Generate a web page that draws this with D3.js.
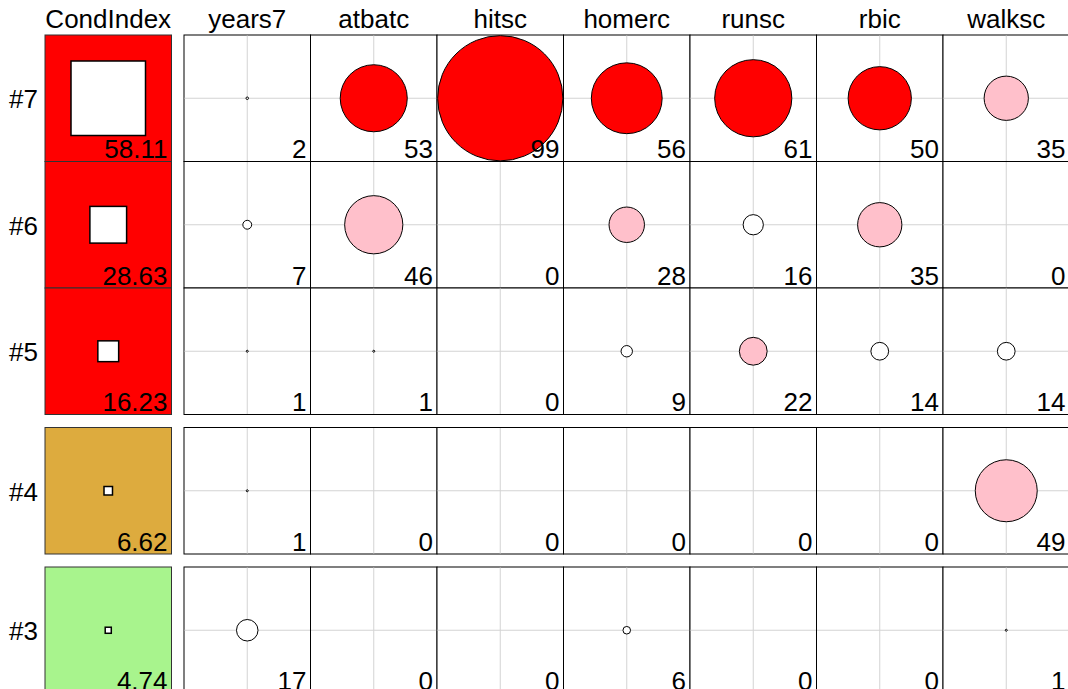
<!DOCTYPE html>
<html>
<head>
<meta charset="utf-8">
<script src="https://cdn.jsdelivr.net/npm/d3@7"></script>
<style>
  body { margin: 0; background: #fff; }
  text { font-family: "Liberation Sans", Arial, sans-serif; fill: #000; }
</style>
</head>
<body>
<script>
'use strict';

var width = 1068;
var height = 689;

var variables = ['years7', 'atbatc', 'hitsc', 'homerc', 'runsc', 'rbic', 'walksc'];
var rowLabels = ['#7', '#6', '#5', '#4', '#3'];
var condIndex = [58.11, 28.63, 16.23, 6.62, 4.74];
var rowGroup = [0, 0, 0, 1, 2];
var props = [
  [2, 53, 99, 56, 61, 50, 35],
  [7, 46, 0, 28, 16, 35, 0],
  [1, 1, 0, 9, 22, 14, 14],
  [1, 0, 0, 0, 0, 0, 49],
  [17, 0, 0, 6, 0, 0, 1]
];

var condBreaks = [5, 10];
var condColors = ['#A8F48D', '#DDAB3E', '#FF0000'];
var propBreaks = [20, 50];
var propColors = ['#FFFFFF', '#FFC0CB', '#FF0000'];

var cell = 126.5;
var topY = 35;
var groupGap = 13;
var condX = 45;
var panelX = 184;
var fontSize = 26;

var condFill = d3.scaleThreshold().domain(condBreaks).range(condColors);
var propFill = d3.scaleThreshold().domain(propBreaks).range(propColors);
var radius = d3.scaleLinear().domain([0, 100]).range([0, cell / 2]);
var side = d3.scaleLinear().domain([0, d3.max(condIndex)]).range([0, 74.5]);

var x = d3.scaleBand().domain(variables).range([panelX, panelX + cell * variables.length]);

function rowY(i) {
  return topY + i * cell + rowGroup[i] * groupGap;
}

var svg = d3.select('body').append('svg').attr('width', width).attr('height', height);

// headers
svg.append('text').attr('x', condX + cell / 2).attr('y', 28).attr('text-anchor', 'middle')
  .style('font-size', fontSize + 'px').text('CondIndex');

svg.selectAll('.head').data(variables).enter().append('text')
  .attr('class', 'head')
  .attr('x', function (d) { return x(d) + cell / 2; })
  .attr('y', 28)
  .attr('text-anchor', 'middle')
  .style('font-size', fontSize + 'px')
  .text(function (d) { return d; });

var rows = svg.selectAll('.row').data(props).enter().append('g')
  .attr('class', 'row')
  .attr('transform', function (d, i) { return 'translate(0,' + rowY(i) + ')'; });

// row labels
rows.append('text')
  .attr('x', 38)
  .attr('y', cell / 2 + 10)
  .attr('text-anchor', 'end')
  .style('font-size', fontSize + 'px')
  .text(function (d, i) { return rowLabels[i]; });

// condition index cells
rows.append('rect')
  .attr('x', condX).attr('y', 0).attr('width', cell).attr('height', cell)
  .attr('fill', function (d, i) { return condFill(condIndex[i]); })
  .attr('stroke', '#333').attr('stroke-width', 1);

rows.append('rect')
  .attr('x', function (d, i) { return condX + cell / 2 - side(condIndex[i]) / 2; })
  .attr('y', function (d, i) { return cell / 2 - side(condIndex[i]) / 2; })
  .attr('width', function (d, i) { return side(condIndex[i]); })
  .attr('height', function (d, i) { return side(condIndex[i]); })
  .attr('fill', '#fff').attr('stroke', '#000').attr('stroke-width', 1.5);

rows.append('text')
  .attr('x', condX + cell - 4)
  .attr('y', cell - 3.5)
  .attr('text-anchor', 'end')
  .style('font-size', fontSize + 'px')
  .text(function (d, i) { return condIndex[i].toFixed(2); });

// proportion cells
var cells = rows.selectAll('.cell')
  .data(function (d) { return d.map(function (v, j) { return { v: v, name: variables[j] }; }); })
  .enter().append('g')
  .attr('class', 'cell')
  .attr('transform', function (d) { return 'translate(' + x(d.name) + ',0)'; });

cells.append('rect')
  .attr('width', cell).attr('height', cell)
  .attr('fill', '#fff').attr('stroke', '#000').attr('stroke-width', 1);

cells.append('line')
  .attr('x1', cell / 2).attr('x2', cell / 2).attr('y1', 0.5).attr('y2', cell - 0.5)
  .attr('stroke', '#d3d3d3').attr('stroke-width', 1);

cells.append('line')
  .attr('x1', 0.5).attr('x2', cell - 0.5).attr('y1', cell / 2).attr('y2', cell / 2)
  .attr('stroke', '#d3d3d3').attr('stroke-width', 1);

cells.filter(function (d) { return d.v > 0; }).append('circle')
  .attr('cx', cell / 2).attr('cy', cell / 2)
  .attr('r', function (d) { return Math.max(radius(d.v), 1); })
  .attr('fill', function (d) { return propFill(d.v); })
  .attr('stroke', '#000').attr('stroke-width', 1);

cells.append('text')
  .attr('x', cell - 4)
  .attr('y', cell - 3.5)
  .attr('text-anchor', 'end')
  .style('font-size', fontSize + 'px')
  .text(function (d) { return d.v; });
</script>
</body>
</html>
